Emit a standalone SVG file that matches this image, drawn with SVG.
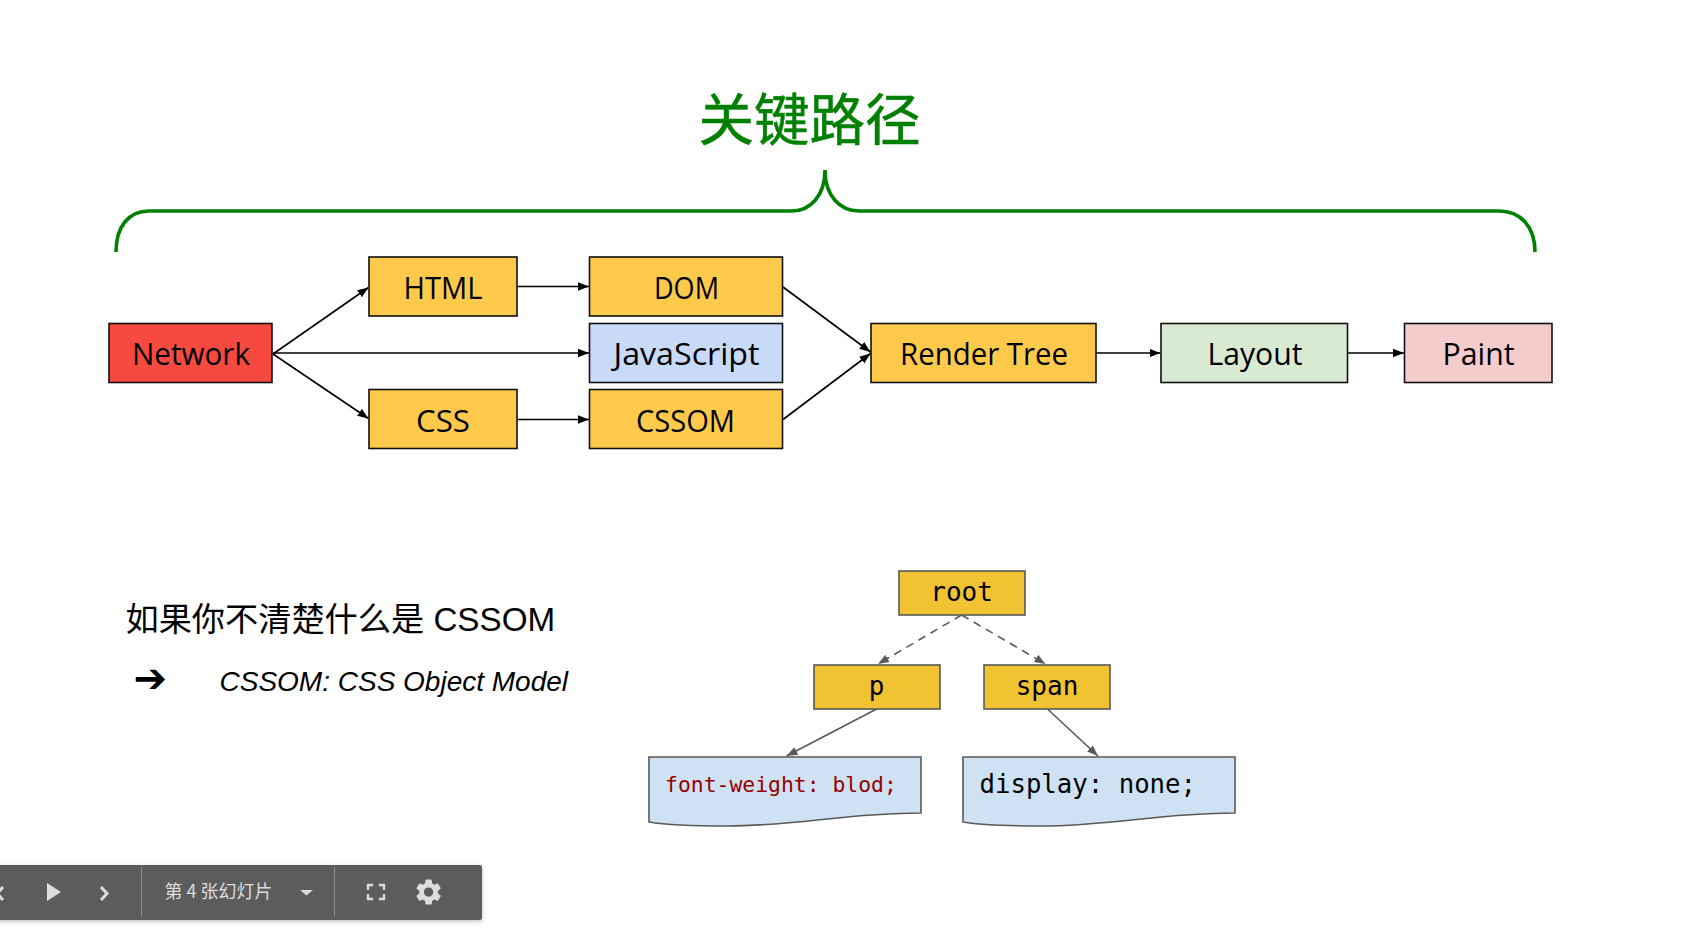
<svg xmlns="http://www.w3.org/2000/svg" width="1684" height="946" viewBox="0 0 1684 946">
<style>
.n{stroke:#111;stroke-width:1.6}
.lb{font-family:"Open Sans","Noto Sans",sans-serif;font-size:31px;fill:#000;text-anchor:middle}
.t{fill:#f1c232;stroke:#595959;stroke-width:1.6}
.d{fill:#cfe2f3;stroke:#595959;stroke-width:1.6}
.m{font-family:"DejaVu Sans Mono",monospace;fill:#000}
.c{fill:none;stroke:#000;stroke-width:1.6;marker-end:url(#a)}
.g{fill:none;stroke:#595959;stroke-width:1.6;marker-end:url(#b)}
</style>
<defs>
<marker id="a" markerUnits="userSpaceOnUse" markerWidth="12" markerHeight="10" refX="11" refY="5" orient="auto"><path d="M0,0.8 L11,5 L0,9.2 Z" fill="#000"/></marker>
<marker id="b" markerUnits="userSpaceOnUse" markerWidth="12" markerHeight="10" refX="11" refY="5" orient="auto"><path d="M0,0.8 L11,5 L0,9.2 Z" fill="#595959"/></marker>
<filter id="sh" x="-5%" y="-20%" width="110%" height="150%"><feDropShadow dx="0" dy="1.5" stdDeviation="2" flood-color="#000" flood-opacity="0.25"/></filter>
</defs>
<rect width="1684" height="946" fill="#fff"/>
<text id="title" x="809.500" y="139.500" font-family="'Noto Sans CJK SC',sans-serif" font-size="55.500" stroke="#008000" stroke-width="0.500" fill="#008000" text-anchor="middle">关键路径</text>
<path id="brace" d="M116,252 C116,226 129,211 149,211 H792 C810,211 825,196 825,170 C825,196 840,211 859,211 H1499 C1520,211 1535,226 1535,252" fill="none" stroke="#008000" stroke-width="3.600"/>
<g id="connectors">
<path class="c" d="M273,354 L368.500,287.500"/>
<path class="c" d="M273,353 H589"/>
<path class="c" d="M273,354 L368.500,418.500"/>
<path class="c" d="M517,286.500 H589"/>
<path class="c" d="M517,419.500 H589"/>
<path class="c" d="M783,287 L870.500,352"/>
<path class="c" d="M783,419.500 L870.500,353.500"/>
<path class="c" d="M1096,353 H1160.500"/>
<path class="c" d="M1348,353 H1404"/>
<path class="g" stroke-dasharray="8 6" d="M961.600,615 L878,664"/>
<path class="g" stroke-dasharray="8 6" d="M961.600,615 L1045.500,664"/>
<path class="g" d="M876.600,709 L786.500,756"/>
<path class="g" d="M1047.500,709 L1098,756"/>
</g>
<g id="network"><rect class="n" x="109" y="323.500" width="163" height="59" fill="#f64a40"/><text class="lb" x="191" y="365" textLength="118" lengthAdjust="spacingAndGlyphs">Network</text></g>
<g id="html"><rect class="n" x="369" y="257" width="148" height="59" fill="#ffca4c"/><text class="lb" x="443" y="299" textLength="79" lengthAdjust="spacingAndGlyphs">HTML</text></g>
<g id="dom"><rect class="n" x="589.500" y="257" width="193" height="59" fill="#ffca4c"/><text class="lb" x="686.500" y="299" textLength="65" lengthAdjust="spacingAndGlyphs">DOM</text></g>
<g id="javascript"><rect class="n" x="589.500" y="323.500" width="193" height="59" fill="#c9daf8"/><text class="lb" x="686.500" y="365" textLength="146" lengthAdjust="spacingAndGlyphs">JavaScript</text></g>
<g id="css"><rect class="n" x="369" y="389.500" width="148" height="59" fill="#ffca4c"/><text class="lb" x="443" y="432" textLength="54" lengthAdjust="spacingAndGlyphs">CSS</text></g>
<g id="cssom"><rect class="n" x="589.500" y="389.500" width="193" height="59" fill="#ffca4c"/><text class="lb" x="685.500" y="432" textLength="99" lengthAdjust="spacingAndGlyphs">CSSOM</text></g>
<g id="render-tree"><rect class="n" x="871" y="323.500" width="225" height="59" fill="#ffca4c"/><text class="lb" x="984" y="365" textLength="168" lengthAdjust="spacingAndGlyphs">Render Tree</text></g>
<g id="layout"><rect class="n" x="1161" y="323.500" width="186.500" height="59" fill="#d9ead3"/><text class="lb" x="1255" y="365" textLength="95" lengthAdjust="spacingAndGlyphs">Layout</text></g>
<g id="paint"><rect class="n" x="1404.500" y="323.500" width="147.500" height="59" fill="#f4cccc"/><text class="lb" x="1478.500" y="365" textLength="72" lengthAdjust="spacingAndGlyphs">Paint</text></g>
<g id="intro">
<text x="125.500" y="631" font-family="'Liberation Sans','Noto Sans CJK SC',sans-serif" font-size="33.200" fill="#000">如果你不清楚什么是 CSSOM</text>
<text x="133.500" y="692" font-family="'DejaVu Sans',sans-serif" font-size="40" fill="#000">➔</text>
<text x="219.500" y="691" font-family="'Liberation Sans',sans-serif" font-style="italic" font-size="28" fill="#000">CSSOM: CSS Object Model</text>
</g>
<g id="root"><rect class="t" x="899" y="571" width="126" height="44"/><text class="m" x="961.600" y="601" font-size="26" text-anchor="middle">root</text></g>
<g id="p"><rect class="t" x="814" y="665" width="126" height="44"/><text class="m" x="876.600" y="695" font-size="26" text-anchor="middle">p</text></g>
<g id="span"><rect class="t" x="984" y="665" width="126" height="44"/><text class="m" x="1047" y="695" font-size="26" text-anchor="middle">span</text></g>
<g id="font-weight"><path class="d" d="M649,757 H921 V813 C846,813 796,826 727,826 C692,826 667,825 649,822 Z"/><text class="m" x="665" y="792" font-size="21.400" style="fill:#980000">font-weight: blod;</text></g>
<g id="display"><path class="d" d="M963,757 H1235 V813 C1160,813 1110,826 1041,826 C1006,826 981,825 963,822 Z"/><text class="m" x="979.500" y="793" font-size="25.700">display: none;</text></g>
<g id="toolbar">
<rect x="-6" y="865" width="488" height="55" rx="2" fill="#5b5b5b" filter="url(#sh)"/>
<path d="M3,887 L-3,893.500 L3,900" fill="none" stroke="#ddd" stroke-width="3"/>
<path d="M47,883 L61,892 L47,901 Z" fill="#ddd"/>
<path d="M101,887 L107,893.500 L101,900" fill="none" stroke="#ddd" stroke-width="3"/>
<path d="M141.500,867 V917 M334.500,867 V917" stroke="#8a8a8a" stroke-width="1"/>
<text x="164.500" y="898" font-family="'Noto Sans CJK SC',sans-serif" font-size="18.400" fill="#ddd" textLength="108" lengthAdjust="spacingAndGlyphs">第 4 张幻灯片</text>
<path d="M300,890 H313 L306.500,895.500 Z" fill="#ddd"/>
<path d="M373,885 H368 V890 M379,885 H384 V890 M373,899 H368 V894 M379,899 H384 V894" fill="none" stroke="#ddd" stroke-width="2.400"/>
<path transform="translate(413,876.500) scale(1.3)" d="M19.140,12.940c.04-.3.060-.61.060-.94 0-.32-.020-.64-.070-.94l2.030-1.580a.49.49 0 0 0 .12-.61l-1.920-3.320a.49.49 0 0 0-.59-.22l-2.390.96c-.5-.38-1.030-.7-1.620-.94l-.36-2.540a.484.484 0 0 0-.48-.41h-3.840c-.24 0-.43.170-.47.410l-.36,2.540c-.59.240-1.130.57-1.620.94l-2.390-.96a.49.49 0 0 0-.59.220L2.740,8.870c-.12.210-.080.470.12.610l2.030,1.580c-.05.300-.09.630-.09.940s.020.640.070.940l-2.030,1.580a.49.49 0 0 0-.12.610l1.920,3.320c.12.220.370.290.59.220l2.390-.96c.5.380,1.030.7,1.620.94l.36,2.540c.05.240.240.410.48.410h3.840c.24,0,.44-.17.470-.41l.36-2.540c.59-.24,1.130-.56,1.620-.94l2.390.96c.22.080.47,0,.59-.22l1.920-3.320c.12-.22.070-.47-.12-.61l-2.010-1.580zM12,15.600c-1.980,0-3.600-1.620-3.600-3.600s1.620-3.600,3.600-3.600,3.600,1.620,3.600,3.600-1.620,3.600-3.600,3.600z" fill="#ddd"/>
</g>
</svg>
